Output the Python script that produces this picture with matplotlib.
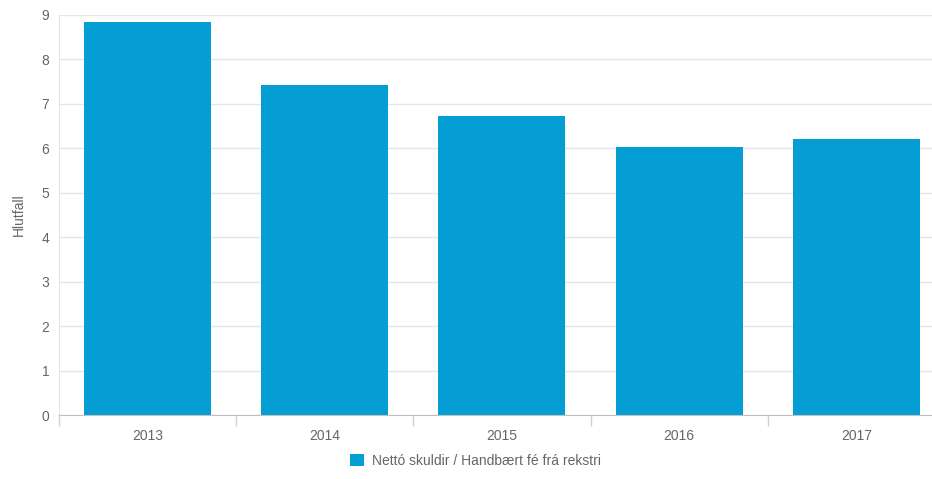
import matplotlib.pyplot as plt
import numpy as np
from matplotlib.patches import Patch

plt.rcParams['font.family'] = ['Liberation Sans', 'DejaVu Sans']

years = ['2013', '2014', '2015', '2016', '2017']
values = [8.84, 7.42, 6.72, 6.02, 6.21]
series_name = 'Nettó skuldir / Handbært fé frá rekstri'
bar_color = '#049ed4'
text_color = '#666666'

fig = plt.figure(figsize=(9.32, 4.79), dpi=100)
# plot area runs a little past the right edge of the image, like the original
ax = fig.add_axes([0.0633, 0.1336, 0.9506, 0.8351])

x = np.arange(len(years))
ax.bar(x, values, width=0.717, color=bar_color, zorder=2)

ax.set_xlim(-0.5, len(years) - 0.5)
ax.set_ylim(0, 9)
ax.set_yticks(range(0, 10))
ax.yaxis.grid(True, color='#e6e6e6', linewidth=1, zorder=0)

ax.set_xticks(x)
ax.set_xticklabels(years)
ax.set_xticks(np.arange(-0.5, len(years)), minor=True)
ax.tick_params(axis='x', which='major', length=0, pad=10, labelsize=10, labelcolor=text_color)
ax.tick_params(axis='x', which='minor', length=8, color='#d0d0d0', width=1)
ax.tick_params(axis='y', length=0, pad=7, labelsize=10, labelcolor=text_color)

for s in ['top', 'right']:
    ax.spines[s].set_visible(False)
ax.spines['left'].set_color('#e6e6e6')
ax.spines['bottom'].set_color('#c0c0c0')

ax.set_ylabel('Hlutfall', color=text_color, fontsize=10, labelpad=11)

handle = Patch(facecolor=bar_color, edgecolor='none')
fig.legend([handle], [series_name], loc='center', bbox_to_anchor=(0.51, 0.038),
           frameon=False, fontsize=10, labelcolor=text_color,
           handlelength=1.0, handleheight=1.0, handletextpad=0.6)

fig.savefig('out.png', dpi=100)
